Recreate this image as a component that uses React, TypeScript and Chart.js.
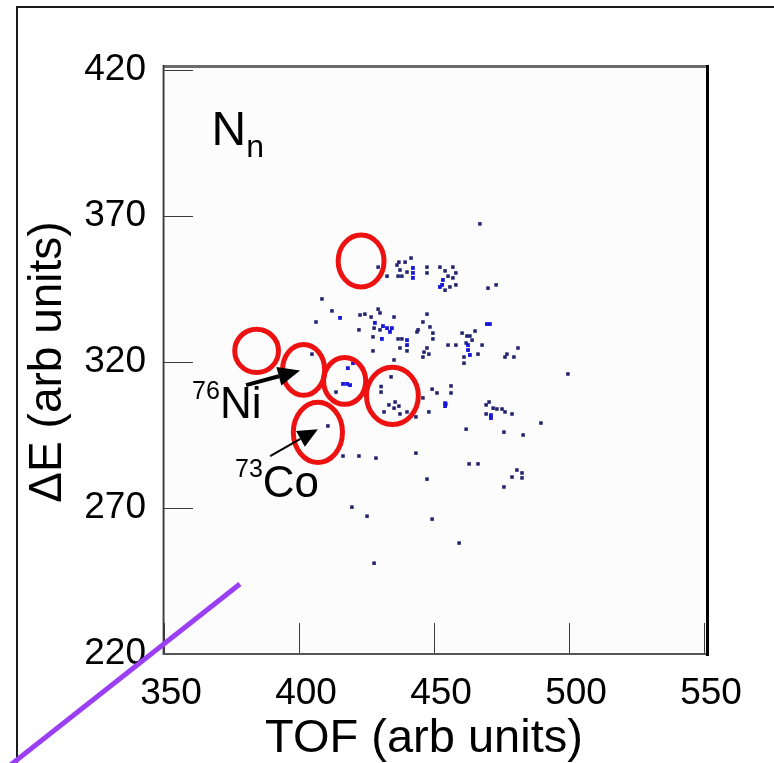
import { useEffect, useRef } from 'react';
import { Chart, registerables } from 'chart.js';

Chart.register(...registerables);

const FONT = "Arial, 'Liberation Sans', Helvetica, sans-serif";

// axis ticks
const xTicks = [350, 400, 450, 500, 550];
const yTicks = [220, 270, 320, 370, 420];
const xTitle = 'TOF (arb units)';
const yTitle = 'ΔE (arb units)';

// dark (navy) events: TOF, dE
const navyX = [467.0, 429.3, 432.6, 437.0, 436.3, 441.5, 439.3, 437.4, 436.7, 438.1, 440.0, 447.4, 447.4, 452.2, 454.1, 455.2, 457.0, 458.1, 457.0, 454.1, 455.9, 458.1, 470.0, 473.0, 408.5, 412.2, 406.3, 422.6, 424.4, 429.3, 430.0, 426.7, 435.2, 422.2, 427.8, 430.0, 427.4, 436.7, 438.1, 437.4, 440.0, 427.4, 435.2, 404.8, 447.4, 445.9, 448.5, 449.6, 449.6, 444.1, 443.7, 447.4, 446.3, 448.1, 445.9, 460.4, 462.2, 463.3, 465.2, 464.1, 461.9, 467.8, 466.3, 455.2, 458.1, 461.1, 461.1, 481.1, 477.0, 476.3, 479.6, 413.7, 434.1, 430.4, 430.4, 433.3, 435.2, 437.0, 435.6, 431.5, 437.4, 440.0, 443.3, 445.9, 449.3, 451.1, 454.4, 448.1, 469.3, 470.4, 471.9, 473.3, 475.2, 469.3, 476.3, 478.9, 461.9, 489.6, 475.9, 483.0, 410.7, 416.3, 422.2, 428.5, 443.3, 463.0, 466.3, 480.7, 478.9, 482.6, 482.6, 475.9, 447.4, 419.6, 425.2, 449.3, 459.3, 427.8, 499.6, 456.3, 456.3];
const navyY = [367.3, 352.5, 349.4, 354.2, 353.2, 355.6, 354.2, 351.5, 349.4, 349.4, 350.8, 352.5, 350.5, 352.5, 351.2, 349.4, 352.5, 350.5, 348.8, 344.6, 345.7, 346.4, 345.3, 346.4, 341.6, 337.5, 333.7, 336.1, 336.4, 338.1, 336.8, 335.4, 335.4, 331.0, 331.6, 331.0, 328.6, 327.9, 327.9, 324.8, 323.8, 323.8, 320.7, 322.7, 336.4, 333.7, 332.0, 329.9, 327.9, 331.0, 330.3, 324.8, 323.4, 322.7, 321.7, 329.9, 328.9, 328.9, 330.6, 327.5, 326.5, 325.8, 322.7, 325.8, 325.8, 321.7, 319.6, 324.8, 322.7, 321.7, 321.7, 309.7, 314.9, 311.6, 309.7, 305.3, 304.2, 304.9, 306.3, 302.9, 302.2, 302.9, 301.2, 307.7, 310.7, 309.4, 305.6, 302.9, 305.3, 306.3, 304.2, 303.9, 303.9, 302.2, 302.9, 302.2, 297.0, 299.1, 296.0, 295.0, 298.1, 287.8, 287.8, 287.1, 288.8, 285.1, 285.1, 283.0, 280.6, 282.0, 280.3, 277.2, 279.9, 270.3, 267.2, 266.2, 258.0, 251.1, 315.9, 311.8, 309.4];

// bright blue (higher count) events
const blueX = [415.2, 442.2, 442.2, 442.2, 452.2, 453.0, 453.3, 428.1, 431.1, 432.6, 434.4, 433.7, 430.7, 440.0, 440.0, 462.6, 462.6, 463.3, 469.6, 470.7, 454.1, 454.1, 471.1, 471.1, 418.9, 417.8, 416.3, 420.0, 418.1];
const blueY = [335.1, 352.2, 350.5, 348.8, 345.7, 346.4, 348.1, 333.4, 332.3, 331.6, 331.6, 330.3, 327.9, 327.5, 325.8, 325.8, 324.1, 322.4, 333.0, 333.0, 305.9, 304.9, 301.8, 300.8, 312.1, 312.5, 312.5, 319.6, 317.9];

// red identification ellipses (centre and half-axes, data units)
const ringX = [423.0, 384.3, 401.7, 416.9, 434.6, 407.0];
const ringY = [354.6, 323.8, 317.3, 313.5, 308.4, 295.9];
const ringRx = [8.5, 8.1, 7.8, 7.8, 9.6, 9.1];
const ringRy = [8.9, 7.4, 8.7, 8.0, 9.8, 10.3];

// arrows: tail -> tip (data units)
const arrowTailX = [380.4, 389.3];
const arrowTailY = [312.1, 287.8];
const arrowTipX = [400.4, 407.0];
const arrowTipY = [317.1, 297.0];

// isotope labels
const isoMass = ['76', '73'];
const isoName = ['Ni', 'Co'];
const isoX = [360.4, 376.3];
const isoY = [307.3, 280.6];
const isoNameY = [300.8, 273.8];

// panel label
const panelMain = 'N';
const panelSub = 'n';
const panelX = 367.6;
const panelY = 394.3;

// purple guide line
const guideX = [378.1, 286.3];
const guideY = [244.0, 177.0];

const zip = (xs: number[], ys: number[]) => xs.map((x, i) => ({ x, y: ys[i] }));

const decor = {
  id: 'decor',
  beforeDraw(chart: any) {
    const { ctx, width, height } = chart;
    ctx.save();
    ctx.fillStyle = '#ffffff';
    ctx.fillRect(0, 0, width, height);
    ctx.fillStyle = '#1a1a1a';
    ctx.fillRect(16, 6, width - 16, 2);
    ctx.fillRect(16, 6, 2, height - 6);
    ctx.restore();
  },
  beforeDatasetsDraw(chart: any) {
    const { ctx, chartArea, scales } = chart;
    const { left, right, top, bottom } = chartArea;
    const xs = scales.x;
    const ys = scales.y;
    ctx.save();
    ctx.fillStyle = '#fbfcfb';
    ctx.fillRect(left, top - 4, right - left + 3, bottom - top + 4);
    // inner tick marks
    ctx.strokeStyle = '#3c3c3c';
    ctx.lineWidth = 1;
    ctx.beginPath();
    yTicks.forEach((v) => {
      const py = Math.round(ys.getPixelForValue(v)) + 0.5;
      ctx.moveTo(left, py);
      ctx.lineTo(left + 29, py);
    });
    xTicks.forEach((v) => {
      const px = Math.round(xs.getPixelForValue(v)) + 0.5;
      ctx.moveTo(px, bottom);
      ctx.lineTo(px, bottom - 31);
    });
    ctx.stroke();
    // frame
    ctx.fillStyle = '#6c6c6c';
    ctx.fillRect(left - 1, top - 5, right - left + 5, 3);
    ctx.fillStyle = '#b0b0b0';
    ctx.fillRect(left - 2, top - 5, 1, bottom - top + 6);
    ctx.fillStyle = '#3a3a3a';
    ctx.fillRect(left - 1, top - 5, 1.5, bottom - top + 6);
    ctx.fillStyle = '#555555';
    ctx.fillRect(left - 1, bottom - 1, right - left + 4, 2);
    ctx.fillStyle = '#000000';
    ctx.fillRect(right + 2, top - 5, 3, bottom - top + 7);
    ctx.restore();
  },
  afterDatasetsDraw(chart: any) {
    const { ctx, scales, chartArea } = chart;
    const xs = scales.x;
    const ys = scales.y;
    const px = (v: number) => xs.getPixelForValue(v);
    const py = (v: number) => ys.getPixelForValue(v);
    ctx.save();
    // ellipses
    ctx.strokeStyle = '#ee1111';
    ctx.lineWidth = 5;
    ringX.forEach((cx, i) => {
      const rx = Math.abs(px(cx + ringRx[i]) - px(cx));
      const ry = Math.abs(py(ringY[i] + ringRy[i]) - py(ringY[i]));
      ctx.beginPath();
      ctx.ellipse(px(cx), py(ringY[i]), rx, ry, 0, 0, Math.PI * 2);
      ctx.stroke();
    });
    // arrows
    const widths = [4, 2];
    const heads = [[22, 19], [20, 18]];
    arrowTailX.forEach((tx, i) => {
      const x0 = px(tx), y0 = py(arrowTailY[i]);
      const x1 = px(arrowTipX[i]), y1 = py(arrowTipY[i]);
      const ang = Math.atan2(y1 - y0, x1 - x0);
      const [hl, hw] = heads[i];
      const bx = x1 - hl * Math.cos(ang), by = y1 - hl * Math.sin(ang);
      ctx.strokeStyle = '#000';
      ctx.lineWidth = widths[i];
      ctx.beginPath();
      ctx.moveTo(x0, y0);
      ctx.lineTo(bx, by);
      ctx.stroke();
      ctx.fillStyle = '#000';
      ctx.beginPath();
      ctx.moveTo(x1, y1);
      ctx.lineTo(bx + (hw / 2) * Math.sin(ang), by - (hw / 2) * Math.cos(ang));
      ctx.lineTo(bx - (hw / 2) * Math.sin(ang), by + (hw / 2) * Math.cos(ang));
      ctx.closePath();
      ctx.fill();
    });
    // isotope labels
    ctx.fillStyle = '#000';
    ctx.textBaseline = 'alphabetic';
    ctx.textAlign = 'left';
    isoMass.forEach((m, i) => {
      const x0 = px(isoX[i]);
      ctx.font = `25px ${FONT}`;
      ctx.fillText(m, x0, py(isoY[i]));
      const w = ctx.measureText(m).width;
      ctx.font = `44px ${FONT}`;
      ctx.fillText(isoName[i], x0 + w, py(isoNameY[i]));
    });
    // panel label
    const nx = px(panelX), ny = py(panelY);
    ctx.font = `48px ${FONT}`;
    ctx.fillText(panelMain, nx, ny);
    const nw = ctx.measureText(panelMain).width;
    ctx.font = `32px ${FONT}`;
    ctx.fillText(panelSub, nx + nw, ny + 12);
    // x axis title (slightly left of centre as in the original)
    ctx.font = `47px ${FONT}`;
    ctx.textAlign = 'center';
    ctx.textBaseline = 'middle';
    ctx.fillText(xTitle, (chartArea.left + chartArea.right) / 2 - 10, chart.height - 24);
    ctx.restore();
  },
};

export default function App() {
  const ref = useRef<HTMLCanvasElement>(null);
  useEffect(() => {
    if (!ref.current) return;
    const chart = new Chart(ref.current, {
      type: 'scatter',
      data: {
        datasets: [
          {
            type: 'line',
            data: zip(guideX, guideY),
            borderColor: '#9b3ff4',
            borderWidth: 5,
            pointRadius: 0,
            fill: false,
            tension: 0,
            clip: false,
          } as any,
          {
            data: zip(blueX, blueY),
            pointStyle: 'rect',
            pointRadius: 2.7,
            backgroundColor: '#1818d8',
            borderWidth: 0,
            pointBorderWidth: 0,
          } as any,
          {
            data: zip(navyX, navyY),
            pointStyle: 'rect',
            pointRadius: 2.5,
            backgroundColor: '#22226e',
            borderWidth: 0,
            pointBorderWidth: 0,
          } as any,
        ],
      },
      options: {
        responsive: false,
        animation: false,
        devicePixelRatio: 1,
        layout: { padding: { left: 0, right: 70, top: 70, bottom: 0 } },
        plugins: { legend: { display: false }, tooltip: { enabled: false } },
        scales: {
          x: {
            type: 'linear',
            min: 350,
            max: 550,
            afterBuildTicks: (s: any) => {
              s.ticks = xTicks.map((v) => ({ value: v }));
            },
            afterFit: (s: any) => {
              s.height = 109;
            },
            grid: { display: false, drawTicks: false },
            border: { display: false },
            ticks: {
              color: '#000',
              font: { family: FONT, size: 37 },
              padding: 18,
              labelOffset: 7,
              maxRotation: 0,
              autoSkip: false,
            },
            title: { display: false },
          },
          y: {
            type: 'linear',
            min: 220,
            max: 420,
            afterBuildTicks: (s: any) => {
              s.ticks = yTicks.map((v) => ({ value: v }));
            },
            afterFit: (s: any) => {
              s.width = 164;
            },
            grid: { display: false, drawTicks: false },
            border: { display: false },
            ticks: {
              color: '#000',
              font: { family: FONT, size: 37 },
              padding: 18,
              autoSkip: false,
            },
            title: {
              display: true,
              text: yTitle,
              color: '#000',
              font: { family: FONT, size: 46, lineHeight: 1 },
              padding: { top: 25, bottom: 0 },
            },
          },
        },
      } as any,
      plugins: [decor],
    });
    return () => chart.destroy();
  }, []);
  return (
    <div style={{ position: 'fixed', left: 0, top: 0, width: 774, height: 763 }}>
      <canvas ref={ref} width={774} height={763} style={{ display: 'block', width: 774, height: 763 }} />
    </div>
  );
}
